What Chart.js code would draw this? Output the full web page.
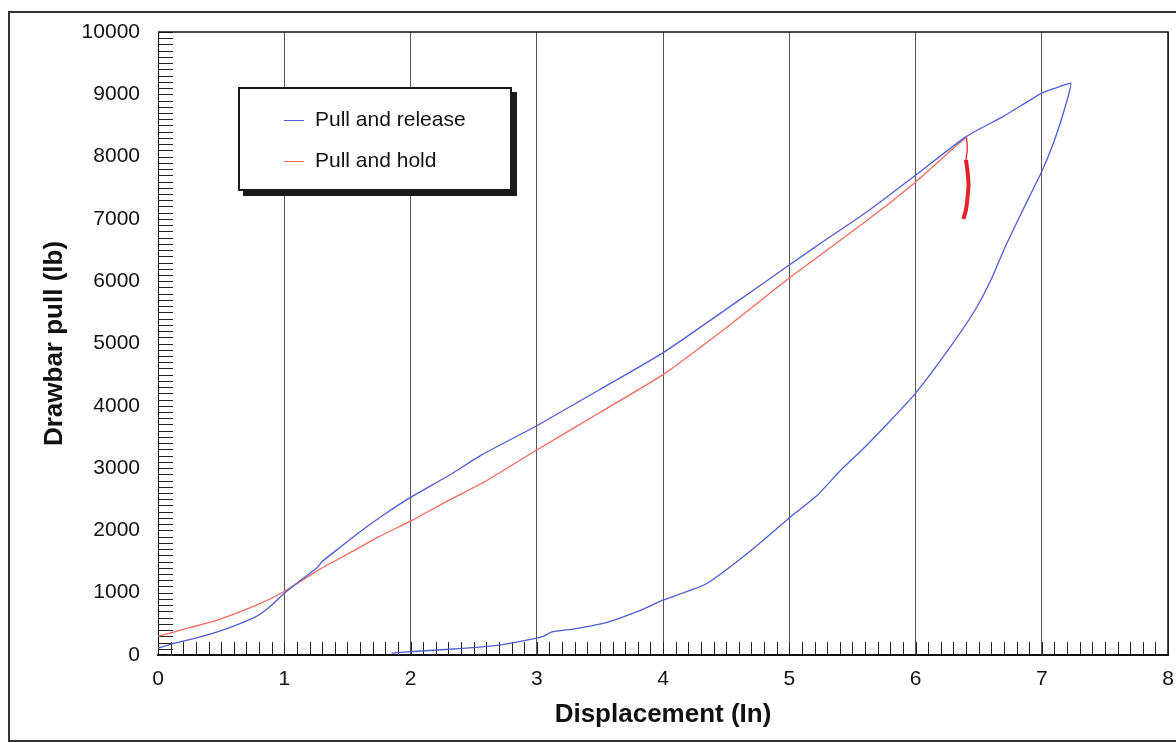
<!DOCTYPE html>
<html>
<head>
<meta charset="utf-8">
<script src="https://cdn.jsdelivr.net/npm/chart.js@4.4.0/dist/chart.umd.min.js"></script>
<style>
  html, body { margin: 0; padding: 0; background: #fff; }
  #wrap { position: relative; width: 1176px; height: 743px; }
  #legend {
    position: absolute; left: 238px; top: 87px; width: 270px; height: 100px;
    border: 2px solid #1a1a1a; box-shadow: 5px 5px 0 #1a1a1a; background: #fff;
    font-family: "Liberation Sans", Arial, sans-serif; font-size: 21px; color: #111;
  }
  .item { position: absolute; left: 44px; height: 24px; line-height: 24px; white-space: nowrap; }
  .item span.sample { display: inline-block; width: 20px; height: 0; vertical-align: middle; margin-right: 11px; }
</style>
</head>
<body>
<div id="wrap">
  <canvas id="drawbar-chart" width="1176" height="743"></canvas>
  <div id="legend"></div>
</div>
<script>
// Pull and release: loading up to the peak, then unloading back down
const releaseX = [0.00, 0.13, 0.30, 0.47, 0.62, 0.78, 0.90, 1.00, 1.13, 1.26, 1.30, 1.45, 1.60, 1.78, 2.00,
  2.31, 2.57, 3.00, 3.49, 4.00, 4.55, 5.00, 5.30, 5.60, 6.00, 6.40, 6.70, 7.00, 7.15, 7.23,
  7.22, 7.20, 7.15, 7.08, 7.00, 6.84, 6.71, 6.60, 6.47, 6.26, 6.00, 5.80, 5.60, 5.40, 5.22,
  5.00, 4.68, 4.34, 4.00, 3.80, 3.55, 3.30, 3.12, 3.05, 2.90, 2.70, 2.44, 2.05, 1.85];
const releaseY = [110, 190, 270, 370, 480, 620, 800, 990, 1200, 1400, 1500, 1740, 1980, 2240, 2530,
  2890, 3220, 3680, 4250, 4850, 5620, 6260, 6680, 7090, 7700, 8320, 8650, 9020, 9130, 9180,
  9050, 8900, 8560, 8150, 7760, 7100, 6550, 6030, 5530, 4900, 4200, 3760, 3340, 2950, 2560,
  2200, 1650, 1140, 880, 700, 520, 420, 370, 300, 230, 160, 110, 60, 30];

// Pull and hold: loading, then the hold drop at about 6.4 in
const holdX = [0.00, 0.20, 0.47, 0.78, 1.00, 1.26, 1.52, 1.75, 2.02, 2.31, 2.57, 3.00, 3.49, 4.00,
  4.55, 5.00, 5.60, 6.00, 6.20, 6.40, 6.41, 6.40, 6.41, 6.42, 6.41, 6.40, 6.38];
const holdY = [300, 410, 560, 800, 1020, 1350, 1640, 1900, 2170, 2490, 2760, 3290, 3880, 4500,
  5330, 6050, 6950, 7590, 7950, 8300, 8100, 7950, 7800, 7550, 7300, 7150, 7000];
const holdDropFrom = 19;   // index where the hold starts
const holdThickFrom = 21;  // dense part of the hold trace

const xTicks = [0, 1, 2, 3, 4, 5, 6, 7, 8];
const yTicks = [0, 1000, 2000, 3000, 4000, 5000, 6000, 7000, 8000, 9000, 10000];

const fontFamily = '"Liberation Sans", Arial, sans-serif';

function toPoints(xs, ys) {
  return xs.map((x, i) => ({ x: x, y: ys[i] }));
}

// outer frame, plot border and the small inward ticks
const frame = {
  id: 'frame',
  beforeDraw(chart) {
    const c = chart.ctx;
    c.save();
    c.strokeStyle = '#333';
    c.lineWidth = 2;
    c.strokeRect(9, 12, 1200, 729);
    c.restore();
  },
  beforeDatasetsDraw(chart) {
    const c = chart.ctx;
    const a = chart.chartArea;
    const xs = chart.scales.x, ys = chart.scales.y;
    c.save();
    c.strokeStyle = '#222';
    c.lineWidth = 1;
    c.beginPath();
    for (let v = 0; v <= 10000; v += 100) {
      const py = Math.round(ys.getPixelForValue(v)) + 0.5;
      c.moveTo(a.left, py);
      c.lineTo(a.left + 15, py);
    }
    for (let i = 1; i < 80; i++) {
      const px = Math.round(xs.getPixelForValue(i / 10)) + 0.5;
      c.moveTo(px, a.bottom);
      c.lineTo(px, a.bottom - 13);
    }
    c.stroke();
    c.lineWidth = 1.5;
    c.strokeStyle = '#111';
    c.beginPath();
    c.moveTo(a.left, a.top);
    c.lineTo(a.right, a.top);
    c.lineTo(a.right, a.bottom);
    c.stroke();
    c.restore();
  }
};

const drawbarCtx = document.querySelector('#drawbar-chart').getContext('2d');

const drawbarGraph = new Chart(drawbarCtx, {
  type: 'scatter',
  data: {
    datasets: [
      {
        label: 'Pull and release',
        data: toPoints(releaseX, releaseY),
        showLine: true,
        borderColor: '#4e5ed2',
        backgroundColor: '#4e5ed2',
        borderWidth: 1.3,
        pointRadius: 0,
        tension: 0.15
      },
      {
        label: 'Pull and hold',
        data: toPoints(holdX, holdY),
        showLine: true,
        borderColor: '#f06a5c',
        backgroundColor: '#f06a5c',
        borderWidth: 1.3,
        pointRadius: 0,
        tension: 0.15,
        segment: {
          borderColor: s => s.p0DataIndex >= holdDropFrom ? '#e3232b' : undefined,
          borderWidth: s => s.p0DataIndex >= holdThickFrom ? 4 : undefined
        }
      }
    ]
  },
  options: {
    responsive: false,
    animation: false,
    layout: { padding: { top: 32, right: 8, left: 0, bottom: 0 } },
    plugins: { legend: { display: false }, tooltip: { enabled: false } },
    scales: {
      x: {
        type: 'linear',
        min: 0,
        max: 8,
        afterFit: s => { s.height = 88; s.paddingRight = 2; s.paddingLeft = 0; },
        afterBuildTicks: s => { s.ticks = xTicks.map(v => ({ value: v })); },
        grid: { color: '#555', lineWidth: 1, drawTicks: false },
        border: { color: '#111', width: 2 },
        ticks: { padding: 12, color: '#111', font: { family: fontFamily, size: 21 }, callback: v => String(v) },
        title: {
          display: true,
          text: 'Displacement (In)',
          color: '#111',
          font: { family: fontFamily, size: 26, weight: 'bold' },
          padding: { top: 0, bottom: 13 }
        }
      },
      y: {
        type: 'linear',
        min: 0,
        max: 10000,
        afterFit: s => { s.width = 158; },
        afterBuildTicks: s => { s.ticks = yTicks.map(v => ({ value: v })); },
        grid: { display: false, drawTicks: false },
        border: { display: true, color: '#111', width: 1 },
        ticks: { padding: 18, color: '#111', font: { family: fontFamily, size: 21 }, callback: v => String(v) },
        title: {
          display: true,
          text: 'Drawbar pull (lb)',
          color: '#111',
          font: { family: fontFamily, size: 26, weight: 'bold' },
          padding: { top: 39, bottom: 0 }
        }
      }
    }
  },
  plugins: [frame]
});

// boxed legend with a drop shadow, built from the datasets
const legendBox = document.getElementById('legend');
drawbarGraph.data.datasets.forEach((ds, i) => {
  const row = document.createElement('div');
  row.className = 'item';
  row.style.top = (18 + i * 41) + 'px';
  row.innerHTML = '<span class="sample" style="border-top:1px solid ' + ds.borderColor + '"></span>' + ds.label;
  legendBox.appendChild(row);
});
</script>
</body>
</html>
